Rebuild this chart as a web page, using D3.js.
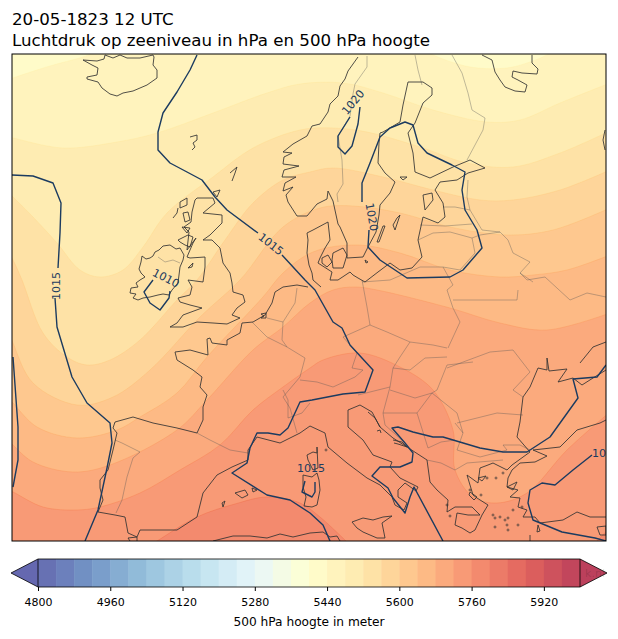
<!DOCTYPE html>
<html>
<head>
<meta charset="utf-8">
<script src="https://cdn.jsdelivr.net/npm/d3@7"></script>
<style>
  html, body { margin: 0; padding: 0; background: #fff; }
  svg text { font-family: "DejaVu Sans", sans-serif; }
</style>
</head>
<body>
<svg id="chart" width="618" height="639"></svg>
<script>
// All map data is in picture grid units.
var titleLines = ["20-05-1823 12 UTC", "Luchtdruk op zeeniveau in hPa en 500 hPa hoogte"]
var barLabel = "500 hPa hoogte in meter"
var barTicks = [4800, 4960, 5120, 5280, 5440, 5600, 5760, 5920]
var barStep = 40
var barMin = 4800
var barMax = 6000

// 500 hPa height contours, north to south
var h5480 = [[8,80],[13,78],[50,66],[83,57],[110,48],[420,48],[433,55],[470,67],[507,68],[530,62],[547,55],[560,48],[610,48]]
var h5520 = [[8,137],[13,138],[63,148],[117,142],[157,133],[213,113],[267,93],[300,84],[343,83],[383,93],[433,110],[487,122],[520,120],[560,103],[610,83]]
var h5560 = [[8,192],[13,197],[33,217],[57,243],[80,270],[100,277],[123,270],[143,247],[167,213],[213,177],[253,148],[300,130],[333,128],[367,132],[420,147],[467,163],[513,167],[560,153],[610,131]]
var h5600 = [[8,252],[13,260],[22,280],[43,333],[67,357],[87,365],[110,360],[140,340],[177,300],[197,280],[225,240],[253,203],[283,180],[310,172],[333,168],[383,177],[433,190],[480,200],[513,200],[560,190],[610,170]]
var h5640 = [[8,330],[13,343],[33,383],[77,405],[113,397],[150,370],[200,317],[240,280],[283,227],[320,208],[353,206],[400,213],[450,227],[507,235],[553,230],[610,208]]
var h5680 = [[8,398],[13,403],[37,427],[77,438],[117,430],[140,417],[177,393],[207,357],[263,297],[283,273],[313,252],[357,245],[400,253],[450,270],[500,277],[533,275],[567,270],[610,255]]
var h5720 = [[8,440],[13,445],[33,462],[73,472],[110,465],[177,430],[207,400],[253,350],[283,327],[310,303],[333,290],[355,287],[377,290],[450,308],[500,323],[547,330],[610,313]]
var h5760 = [[8,490],[13,492],[43,507],[77,510],[100,507],[140,493],[180,470],[220,445],[253,410],[283,387],[310,368],[323,360],[360,353],[400,367],[433,390],[453,430],[455,470],[473,497],[497,503],[527,493],[567,450],[610,412]]
var h5800 = [[150,545],[157,541],[197,517],[235,504],[267,497],[300,503],[320,517],[350,545]]
var h5800b = [[594,545],[597,541],[610,530],[610,545]]

// Sea level pressure isobars
var isoWest = [[197,55],[190,70],[177,92],[163,113],[158,132],[158,150],[170,163],[187,172],[202,180],[215,197],[227,210],[258,233]]
var isoCentral = [[282,255],[305,280],[315,290],[333,322],[342,328],[350,345],[373,370],[365,392],[343,394],[312,400],[300,402],[288,428],[280,435],[268,433],[257,433],[250,448],[247,463],[232,473],[267,495],[290,500],[310,513],[323,525],[330,541]]
var isoAtlanticN = [[12,175],[33,176],[53,183],[61,203],[60,233],[58,268]]
var isoAtlanticS = [[55,298],[57,327],[72,377],[87,403],[110,423],[112,443],[107,468],[98,510],[85,541]]
var isoEdge = [[13,357],[18,427],[18,460],[13,487]]
var isoIreland = [[153,280],[144,292],[150,303],[160,310],[169,298],[170,291]]
var isoNorway = [[360,107],[358,124],[352,146],[345,154],[338,147],[338,136],[350,117]]
var isoBaltic = [[369,230],[368,247],[380,260],[407,278],[450,277],[463,270],[482,248],[477,230],[465,210],[462,190],[465,172],[452,165],[427,153],[418,143],[413,125],[405,122],[390,128],[380,137],[370,163],[362,183],[362,202]]
var isoBalkan = [[443,541],[414,487],[410,497],[405,513],[393,498],[388,488],[372,476],[380,467],[400,467],[412,462],[413,453],[405,443],[392,428],[398,427],[413,432],[433,437],[443,437],[480,448],[503,452],[527,452],[550,437],[578,398],[573,379],[597,377],[606,365]]
var isoSardinia = [[305,481],[302,492],[312,497],[315,492],[315,482]]
var isoTurkey = [[592,455],[573,470],[555,485],[542,483],[530,490],[528,503],[533,520],[562,532],[595,538],[606,541]]

var isoLabels = [
  ["1015", 56, 286, -90],
  ["1010", 166, 278, 27],
  ["1015", 271, 244, 38],
  ["1020", 353, 102, -50],
  ["1020", 372, 217, 80],
  ["1015", 311, 468, 0],
  ["10", 592, 453, 0]
]

// Coastlines
var coastIceland = [[105,55],[104,59],[97,61],[83,60],[92,65],[98,68],[97,75],[87,77],[87,79],[98,82],[102,88],[110,94],[117,96],[123,93],[133,91],[147,85],[157,78],[157,70],[153,65],[154,57],[153,55],[140,58],[127,58],[120,55],[113,58],[105,55]]
var coastFaroe = [[190,137],[197,135],[197,140],[193,143],[195,147],[192,150]]
var coastShetland = [[230,173],[237,167],[235,173],[232,181]]
var coastOrkney = [[213,192],[220,190],[217,197],[213,192]]
var coastBritain = [[197,198],[213,198],[215,203],[203,213],[222,215],[222,223],[210,235],[203,240],[212,240],[220,248],[223,263],[230,273],[232,283],[233,292],[243,295],[245,302],[237,308],[232,315],[240,318],[227,324],[213,323],[197,322],[183,327],[170,327],[177,323],[183,315],[202,308],[190,305],[180,302],[178,298],[190,295],[192,287],[188,280],[203,282],[205,267],[205,257],[190,258],[187,257],[193,243],[196,238],[187,250],[189,232],[184,227],[191,222],[192,212],[195,200],[197,198]]
var coastLewis = [[180,202],[187,198],[187,205],[180,208],[180,202]]
var coastUist = [[173,218],[177,213],[178,208]]
var coastSkye = [[183,213],[188,212],[190,220],[185,222],[183,213]]
var coastMull = [[182,227],[190,228],[187,233],[182,227]]
var coastIslay = [[178,240],[188,235],[193,237],[190,247],[185,245],[180,242],[178,240]]
var coastMan = [[188,268],[193,263],[192,267],[188,268]]
var coastIreland = [[155,252],[159,250],[163,246],[170,245],[176,249],[180,248],[184,255],[183,260],[180,267],[179,275],[178,283],[172,290],[169,295],[163,294],[158,295],[150,297],[143,298],[138,300],[133,298],[136,294],[130,293],[131,288],[138,287],[136,283],[140,280],[145,277],[141,273],[139,269],[141,262],[142,256],[146,259],[150,258],[153,256],[155,252]]
var coastNorway = [[358,57],[353,64],[348,71],[345,79],[340,86],[338,96],[330,104],[328,112],[320,124],[312,126],[307,136],[293,144],[283,152],[292,153],[284,157],[283,164],[299,166],[284,170],[282,177],[296,177],[285,183],[283,191],[293,187],[286,195],[288,202],[297,216],[307,216],[317,204],[327,199],[328,191],[333,201],[338,224],[340,227],[347,243],[347,258],[363,257],[368,247],[376,232],[379,215],[380,205],[390,193],[395,182],[385,173],[378,163],[379,143],[380,133],[383,132],[400,122],[403,105],[408,82],[423,82],[432,88],[432,95],[423,103],[415,123],[408,133],[413,153],[415,172],[430,178],[453,167],[470,160],[485,168],[468,173],[457,180],[440,182],[435,190],[443,203],[445,217],[438,223],[423,217],[418,240],[422,257],[412,268],[400,270],[390,263],[378,272],[365,282],[358,278],[353,275],[350,272],[338,280],[330,280],[332,272],[318,263],[320,258],[325,248],[330,240],[328,222],[313,230],[307,233],[308,240],[307,253],[309,265],[312,273],[313,280],[321,287]]
var coastDenmarkFyn = [[322,258],[328,255],[332,262],[327,267],[322,263],[322,258]]
var coastZealand = [[333,253],[343,248],[347,255],[343,268],[333,268],[332,260],[333,253]]
var coastGotland = [[400,215],[395,230],[393,225],[397,218],[400,215]]
var coastOland = [[383,226],[377,242],[379,242],[385,226],[383,226]]
var coastBornholm = [[365,260],[368,262],[366,263],[365,260]]
var coastSaaremaa = [[423,195],[432,193],[433,200],[425,210],[423,195]]
var coastAland = [[400,177],[407,177],[403,180],[400,177]]
var coastKola = [[482,55],[492,60],[495,72],[500,80],[505,87],[515,91],[525,92],[527,85],[518,80],[512,77],[513,71],[522,73],[537,74],[538,69],[532,63],[532,55]]
var coastEdge = [[605,130],[603,140],[605,150]]
var coastEurope = [[308,287],[297,285],[283,287],[275,292],[272,303],[265,315],[253,322],[242,323],[240,333],[227,340],[227,345],[212,343],[210,338],[207,339],[208,355],[190,350],[175,352],[177,360],[193,370],[202,377],[200,387],[207,395],[203,407],[203,420],[197,433],[177,428],[153,423],[133,417],[115,422],[113,428],[117,433],[113,450],[108,470],[100,480],[100,488],[103,500],[98,512],[115,515],[125,517],[128,533],[137,537],[140,530],[177,530],[197,517],[203,493],[217,475],[232,467],[248,460],[248,450],[257,437],[280,443],[300,433],[310,426],[325,433],[328,447],[347,463],[367,478],[380,485],[392,497],[395,505],[404,510],[407,503],[398,497],[398,490],[405,483],[416,491],[418,487],[400,478],[390,467],[392,462],[373,455],[363,440],[348,427],[348,410],[360,405],[372,412],[380,427],[393,438],[407,447],[427,460],[430,482],[437,490],[448,500],[447,512],[455,507],[472,507],[480,515],[468,515],[457,513],[455,525],[462,528],[470,533],[475,530],[482,515],[488,505],[477,498],[473,495],[467,475],[478,483],[480,468],[488,465],[493,463],[507,470],[512,465],[530,452],[517,437],[520,422],[523,397],[530,387],[538,368],[547,370],[547,358],[549,371],[567,369],[558,382],[573,378],[582,385],[593,378],[606,370]]
var coastAzov = [[580,363],[593,347],[606,342]]
var coastTurkey = [[606,420],[600,423],[577,430],[560,447],[533,450],[547,456],[535,462],[520,463],[512,470],[508,478],[507,487],[518,490],[510,497],[520,498],[518,507],[527,510],[523,517],[535,517],[540,523],[563,520],[577,512],[590,517],[606,517]]
var coastAfrica = [[213,541],[233,536],[250,536],[267,538],[280,534],[293,537],[310,533],[323,532],[330,537],[337,536],[340,541]]
var coastCeuta = [[130,541],[128,538],[137,537],[137,541]]
var coastMallorca = [[235,493],[245,490],[248,495],[242,498],[235,493]]
var coastMenorca = [[252,488],[257,490],[253,492],[252,488]]
var coastIbiza = [[222,503],[225,501],[223,507],[222,503]]
var coastCorsica = [[317,447],[317,453],[313,452],[307,455],[308,460],[313,470],[318,468],[317,447]]
var coastSardinia = [[303,475],[312,477],[317,473],[319,480],[320,490],[317,505],[312,507],[304,506],[306,497],[303,487],[303,475]]
var coastSicily = [[352,522],[363,518],[373,520],[383,517],[392,516],[382,523],[385,538],[377,538],[363,532],[357,528],[352,522]]
var coastCyprus = [[597,527],[606,526],[606,535],[600,535],[597,527]]
var coastRhodes = [[538,525],[540,531],[537,532],[538,525]]
var coastCrete = [[530,535],[530,541]]
var coastLesbos = [[507,487],[517,482],[513,490],[507,487]]
var coastChios = [[478,478],[486,476],[482,481],[478,478]]
var coastZeeland = [[261,314],[266,313],[266,318],[261,318],[264,316],[261,314]]
var coastDalmatiaN = [[368,412],[375,418],[380,427]]
var coastDalmatiaS = [[377,431],[380,430],[381,433]]
var coastKorcula = [[393,440],[402,442],[407,447],[398,444],[394,443]]
var coastEuboea = [[470,492],[477,497],[474,500],[469,495],[470,492]]
var aegeanIslands = [[326,450],[481,495],[493,515],[495,518],[500,517],[505,520],[508,518],[507,525],[513,510],[522,507],[495,527],[518,525],[508,530],[470,490],[447,505],[450,516],[496,478],[503,473],[487,478]]

// Country borders
var borderSpain = [[115,440],[122,443],[140,452],[133,458],[127,477],[122,500],[116,513]]
var borderPyrenees = [[197,433],[210,440],[230,450],[248,453]]
var borderUlster = [[158,257],[165,262],[173,260],[180,263]]
var borderFrance = [[252,322],[267,337],[287,347],[305,358],[300,377],[283,397],[290,408],[297,433]]
var borderDutch = [[267,318],[283,322],[295,303],[297,288]]
var borderBelgium = [[283,322],[282,340],[287,347]]
var borderSwiss = [[283,390],[288,400],[288,418],[302,413],[310,403]]
var borderAlps = [[300,380],[317,382],[333,387],[355,377],[363,370]]
var borderGermanyE = [[362,280],[367,307],[370,325],[343,337],[357,353],[352,368],[363,370]]
var borderCzech = [[370,325],[387,332],[410,342],[400,357],[393,368]]
var borderSlovakiaN = [[410,342],[433,345],[447,348]]
var borderSlovakiaS = [[393,368],[410,370],[425,358],[447,357]]
var borderAustria = [[393,368],[390,387],[358,395]]
var borderCroatia = [[390,387],[383,413],[417,413],[432,393],[415,398],[390,390]]
var borderRomaniaN = [[447,368],[490,352],[513,350],[530,372],[513,390],[523,397]]
var borderRomaniaW = [[473,362],[447,365],[437,390],[432,393],[457,413],[463,433],[455,423]]
var borderRomaniaS = [[457,423],[497,413],[523,415]]
var borderBulgaria = [[463,433],[457,450],[480,457],[507,450],[503,445],[520,445],[530,450]]
var borderGreece = [[427,460],[441,463],[455,470],[467,463],[503,460]]
var borderSerbia = [[417,413],[428,448],[441,442],[455,440]]
var borderBosnia = [[383,413],[385,425],[405,443]]
var borderBaltic = [[418,240],[433,233],[450,232],[472,238],[480,235],[500,232],[508,240],[513,253],[530,262],[520,273],[533,282]]
var borderPolandE = [[472,238],[475,253],[460,270],[443,267],[453,285],[447,290],[453,308],[460,322],[448,348]]
var borderKaliningrad = [[362,282],[390,280],[420,267],[443,267]]
var borderBelarus = [[453,300],[487,300],[517,300],[518,290]]
var borderUkraine = [[520,273],[527,280],[545,277],[570,300],[587,293],[606,297]]
var borderEstonia = [[468,180],[467,197],[470,210],[482,230],[500,232]]
var borderLatvia = [[443,207],[455,207],[470,210]]
var borderLithuania = [[420,225],[445,226],[472,224]]
var borderFinland = [[452,55],[462,73],[468,93],[472,110],[485,118],[483,130],[467,160]]
var borderLapland = [[415,55],[418,70],[422,85]]
var borderSweden = [[367,56],[367,67],[355,84],[353,94],[350,116],[338,136],[342,160],[343,184],[337,194],[338,202]]

var heightContours = [h5480, h5520, h5560, h5600, h5640, h5680, h5720, h5760]
var heightPatches = [h5800, h5800b]
var firstBand = 16 // index of the 5440-5480 band, colour just below h5480

var isobars = [isoWest, isoCentral, isoAtlanticN, isoAtlanticS, isoEdge, isoIreland, isoNorway, isoBaltic, isoBalkan, isoSardinia, isoTurkey]
var coasts = [coastIceland, coastFaroe, coastShetland, coastOrkney, coastBritain, coastLewis, coastUist, coastSkye, coastMull, coastIslay, coastMan, coastIreland, coastNorway, coastDenmarkFyn, coastZealand, coastGotland, coastOland, coastBornholm, coastSaaremaa, coastAland, coastKola, coastEdge, coastEurope, coastAzov, coastTurkey, coastAfrica, coastCeuta, coastMallorca, coastMenorca, coastIbiza, coastCorsica, coastSardinia, coastSicily, coastCyprus, coastRhodes, coastCrete, coastLesbos, coastChios, coastZeeland, coastDalmatiaN, coastDalmatiaS, coastKorcula, coastEuboea]
var borders = [borderSpain, borderPyrenees, borderUlster, borderFrance, borderDutch, borderBelgium, borderSwiss, borderAlps, borderGermanyE, borderCzech, borderSlovakiaN, borderSlovakiaS, borderAustria, borderCroatia, borderRomaniaN, borderRomaniaW, borderRomaniaS, borderBulgaria, borderGreece, borderSerbia, borderBosnia, borderBaltic, borderPolandE, borderKaliningrad, borderBelarus, borderUkraine, borderEstonia, borderLatvia, borderLithuania, borderFinland, borderLapland, borderSweden]

var svg = d3.select("#chart")

// frame of the map and of the colour bar
var map = {left: 12, right: 606, top: 54, bottom: 541}
var bar = {left: 38, right: 580, top: 559, bottom: 587, tipLeft: 11, tipRight: 607}

var x = d3.scaleLinear().domain([12, 606]).range([map.left, map.right])
var y = d3.scaleLinear().domain([54, 541]).range([map.top, map.bottom])

// same colours as matplotlib's RdYlBu_r, alpha 0.75 on white
var ramp = d3.scaleLinear()
  .domain(d3.range(11).map(function(i) { return i / 10 }))
  .range(d3.schemeRdYlBu[11].slice().reverse())
function bandColor(t) {
  return d3.interpolateRgb("white", ramp(t))(0.75)
}
function bandT(i) {
  return (i + 0.5) / 30
}

var line = d3.line().x(function(d) { return x(d[0]) }).y(function(d) { return y(d[1]) })
var smooth = d3.line().curve(d3.curveCatmullRom.alpha(0.5))
  .x(function(d) { return x(d[0]) }).y(function(d) { return y(d[1]) })

svg.append("clipPath").attr("id", "mapClip").append("rect")
  .attr("x", map.left).attr("y", map.top)
  .attr("width", map.right - map.left).attr("height", map.bottom - map.top)

var mapLayer = svg.append("g").attr("clip-path", "url(#mapClip)")

mapLayer.append("rect")
  .attr("x", map.left).attr("y", map.top)
  .attr("width", map.right - map.left).attr("height", map.bottom - map.top)
  .attr("fill", bandColor(bandT(firstBand - 1)))

// paint each height band over the last, from north to south
heightContours.forEach(function(pts, i) {
  var t = bandT(firstBand + i)
  mapLayer.append("path")
    .attr("d", smooth(pts) + "L" + x(610) + "," + y(548) + "L" + x(8) + "," + y(548) + "Z")
    .attr("fill", bandColor(t))
  mapLayer.append("path")
    .attr("d", smooth(pts))
    .attr("fill", "none")
    .attr("stroke", ramp(t))
    .attr("stroke-opacity", 0.35)
    .attr("stroke-width", 1)
})
heightPatches.forEach(function(pts) {
  var t = bandT(firstBand + heightContours.length)
  mapLayer.append("path")
    .attr("d", smooth(pts) + "Z")
    .attr("fill", bandColor(t))
    .attr("stroke", ramp(t))
    .attr("stroke-opacity", 0.35)
})

mapLayer.selectAll("path.border").data(borders).enter().append("path")
  .attr("class", "border")
  .attr("d", line)
  .attr("fill", "none")
  .attr("stroke", "#555")
  .attr("stroke-opacity", 0.42)
  .attr("stroke-width", 0.9)

mapLayer.selectAll("path.coast").data(coasts).enter().append("path")
  .attr("class", "coast")
  .attr("d", line)
  .attr("fill", "none")
  .attr("stroke", "#333")
  .attr("stroke-opacity", 0.85)
  .attr("stroke-width", 1)

mapLayer.selectAll("circle.island").data(aegeanIslands).enter().append("circle")
  .attr("class", "island")
  .attr("cx", function(d) { return x(d[0]) })
  .attr("cy", function(d) { return y(d[1]) })
  .attr("r", 1)
  .attr("fill", "none")
  .attr("stroke", "#333")
  .attr("stroke-opacity", 0.85)
  .attr("stroke-width", 0.8)

mapLayer.selectAll("path.isobar").data(isobars).enter().append("path")
  .attr("class", "isobar")
  .attr("d", line)
  .attr("fill", "none")
  .attr("stroke", "#1b3b60")
  .attr("stroke-width", 1.4)
  .attr("stroke-linejoin", "round")

mapLayer.selectAll("text.isolabel").data(isoLabels).enter().append("text")
  .attr("class", "isolabel")
  .attr("transform", function(d) { return "translate(" + x(d[1]) + "," + y(d[2]) + ") rotate(" + d[3] + ")" })
  .attr("text-anchor", function(d) { return d[1] > 580 ? "start" : "middle" })
  .attr("dy", "0.36em")
  .attr("font-size", 11.1)
  .attr("fill", "#1b3b60")
  .text(function(d) { return d[0] })

svg.append("rect")
  .attr("x", map.left).attr("y", map.top)
  .attr("width", map.right - map.left).attr("height", map.bottom - map.top)
  .attr("fill", "none")
  .attr("stroke", "#000")
  .attr("stroke-width", 1)

svg.selectAll("text.title").data(titleLines).enter().append("text")
  .attr("class", "title")
  .attr("x", map.left)
  .attr("y", function(d, i) { return 25 + i * 21 })
  .attr("font-size", 16.67)
  .attr("fill", "#000")
  .text(function(d) { return d })

// colour bar
var barX = d3.scaleLinear().domain([barMin, barMax]).range([bar.left, bar.right])
var barLevels = d3.range(barMin, barMax, barStep)

svg.append("path")
  .attr("d", "M" + bar.left + "," + bar.top + "L" + bar.tipLeft + "," + (bar.top + bar.bottom) / 2 + "L" + bar.left + "," + bar.bottom + "Z")
  .attr("fill", bandColor(0))
svg.append("path")
  .attr("d", "M" + bar.right + "," + bar.top + "L" + bar.tipRight + "," + (bar.top + bar.bottom) / 2 + "L" + bar.right + "," + bar.bottom + "Z")
  .attr("fill", bandColor(1))

svg.selectAll("rect.band").data(barLevels).enter().append("rect")
  .attr("class", "band")
  .attr("x", function(d) { return barX(d) })
  .attr("y", bar.top)
  .attr("width", barX(barMin + barStep) - barX(barMin) + 0.5)
  .attr("height", bar.bottom - bar.top)
  .attr("fill", function(d, i) { return bandColor(bandT(i)) })

svg.append("text")
  .attr("x", 605).attr("y", 577)
  .attr("text-anchor", "end")
  .attr("font-size", 11)
  .attr("fill", "#000")
  .attr("fill-opacity", 0.15)
  .text("k.nl")

svg.append("path")
  .attr("d", "M" + bar.left + "," + bar.top + "L" + bar.tipLeft + "," + (bar.top + bar.bottom) / 2 + "L" + bar.left + "," + bar.bottom
    + "L" + bar.right + "," + bar.bottom + "L" + bar.tipRight + "," + (bar.top + bar.bottom) / 2 + "L" + bar.right + "," + bar.top + "Z"
    + "M" + bar.left + "," + bar.top + "V" + bar.bottom + "M" + bar.right + "," + bar.top + "V" + bar.bottom)
  .attr("fill", "none")
  .attr("stroke", "#000")
  .attr("stroke-width", 0.8)

var barAxis = d3.axisBottom(barX).tickValues(barTicks).tickSize(4).tickPadding(7).tickFormat(d3.format("d"))
var axisG = svg.append("g")
  .attr("transform", "translate(0," + bar.bottom + ")")
  .call(barAxis)
axisG.select(".domain").remove()
axisG.selectAll("text").attr("font-size", 11).attr("font-family", "DejaVu Sans").attr("fill", "#000")

svg.append("text")
  .attr("x", (bar.left + bar.right) / 2)
  .attr("y", 626)
  .attr("text-anchor", "middle")
  .attr("font-size", 12.2)
  .attr("fill", "#000")
  .text(barLabel)
</script>
</body>
</html>
